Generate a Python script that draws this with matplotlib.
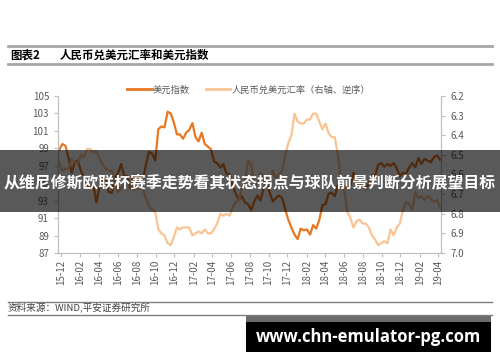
import matplotlib as mpl
mpl.use('Agg')
from matplotlib import pyplot as plt
from matplotlib.patches import Rectangle
from matplotlib.lines import Line2D
import matplotlib.dates as mdates
import pandas as pd

plt.rcParams['font.family'] = ['Noto Sans CJK SC', 'DejaVu Sans']

# 10-day samples as placed on the chart's time axis
start_date = '2015-11-25'
usd_index = [98.8, 99.5, 99.3, 97.9, 96.2, 97.4,
             97.6, 96.4, 95.7, 94.6, 94.5, 94.8, 92.8, 94.6, 95.3, 95.3,
             94.0, 93.9, 95.6, 96.2, 97.2, 95.8, 95.8, 94.4, 95.9, 95.1,
             95.8, 95.4, 97.1, 98.6, 98.4, 97.6, 101.2, 101.5, 101.4, 103.2,
             103.0, 102.0, 100.6, 100.6, 100.1, 100.8, 101.1, 101.9, 100.3, 99.8,
             100.8, 99.5, 99.2, 98.9, 97.5, 97.3, 96.8, 97.2, 96.1, 96.0,
             94.7, 93.8, 93.1, 93.5, 92.8, 92.6, 91.9, 92.9, 93.6, 93.0,
             94.4, 94.9, 93.9, 92.9, 93.3, 93.6, 93.3, 92.0, 90.8, 89.9,
             89.1, 88.6, 89.8, 89.6, 89.7, 89.1, 90.2, 89.8, 90.8, 92.5,
             92.6, 93.8, 93.9, 93.5, 94.8, 94.6, 94.7, 94.5, 94.6, 96.2,
             95.3, 94.8, 95.2, 94.3, 95.0, 95.9, 95.8, 97.1, 97.3, 96.9,
             97.2, 97.0, 97.3, 96.7, 95.8, 96.2, 96.1, 96.8, 97.3, 96.8,
             97.9, 97.2, 97.8, 97.6, 97.4, 98.0, 98.2, 97.7]
cny_rate = [6.54, 6.58, 6.57, 6.57, 6.52, 6.54,
            6.54, 6.50, 6.51, 6.47, 6.47, 6.49, 6.48, 6.52, 6.55, 6.57,
            6.58, 6.58, 6.65, 6.69, 6.67, 6.64, 6.63, 6.65, 6.68, 6.67,
            6.67, 6.67, 6.72, 6.76, 6.78, 6.79, 6.88, 6.90, 6.91, 6.95,
            6.96, 6.92, 6.87, 6.88, 6.87, 6.87, 6.87, 6.91, 6.90, 6.89,
            6.90, 6.88, 6.90, 6.90, 6.88, 6.85, 6.80, 6.81, 6.80, 6.81,
            6.77, 6.74, 6.73, 6.67, 6.64, 6.53, 6.55, 6.65, 6.65, 6.59,
            6.64, 6.62, 6.63, 6.58, 6.62, 6.60, 6.58, 6.50, 6.44, 6.40,
            6.29, 6.33, 6.34, 6.34, 6.32, 6.32, 6.29, 6.29, 6.33, 6.37,
            6.34, 6.39, 6.41, 6.41, 6.50, 6.63, 6.67, 6.79, 6.82, 6.87,
            6.84, 6.83, 6.85, 6.85, 6.87, 6.91, 6.93, 6.96, 6.95, 6.94,
            6.95, 6.88, 6.91, 6.87, 6.85, 6.78, 6.74, 6.75, 6.78, 6.69,
            6.72, 6.71, 6.73, 6.71, 6.72, 6.74, 6.73, 6.77]
dates = pd.date_range(start_date, periods=len(usd_index), freq='10D')
tick_dates = pd.date_range('2015-12-01', '2019-04-01', freq='2MS')
left_ticks = [87, 89, 91, 93, 95, 97, 99, 101, 103, 105]
right_ticks = [6.2, 6.3, 6.4, 6.5, 6.6, 6.7, 6.8, 6.9, 7.0]

DARK = '#E87722'
LIGHT = '#F9C394'
GREY_TXT = '#595959'
SPINE = '#BFBFBF'

W, H = 500, 362
fig = plt.figure(figsize=(W / 100, H / 100), dpi=100)

ax = fig.add_axes([58 / W, 1 - 253 / H, (441 - 58) / W, (253 - 96) / H])
ax2 = ax.twinx()

ax.plot(dates, usd_index, color=DARK, lw=1.6, label='美元指数')
ax2.plot(dates, cny_rate, color=LIGHT, lw=1.6, label='人民币兑美元汇率（右轴、逆序）')

ax.set_ylim(87, 105)
ax.set_yticks(left_ticks)
ax2.set_ylim(7.0, 6.2)
ax2.set_yticks(right_ticks)
ax2.set_yticklabels(['%.1f' % v for v in right_ticks])
ax.set_xlim(pd.Timestamp('2015-11-21'), pd.Timestamp('2019-04-11'))
ax.set_xticks(tick_dates)
ax.xaxis.set_major_formatter(mdates.DateFormatter('%y-%m'))
for lbl in ax.get_xticklabels():
    lbl.set_rotation(90)

for a in (ax, ax2):
    for s in a.spines.values():
        s.set_color(SPINE)
    a.spines['top'].set_visible(False)
    a.tick_params(colors=SPINE, labelcolor=GREY_TXT, labelsize=7, length=3, width=0.8)
ax.tick_params(axis='x', labelsize=7, pad=2)

# legend
h1 = Line2D([], [], color=DARK, lw=2)
h2 = Line2D([], [], color=LIGHT, lw=2)
fig.legend([h1, h2], ['美元指数', '人民币兑美元汇率（右轴、逆序）'], ncol=2, frameon=False,
           loc='center left', bbox_to_anchor=(119 / W, 1 - 90 / H), fontsize=6.7,
           labelcolor=GREY_TXT, handlelength=2.6, handletextpad=0.15, columnspacing=1.7)

# header
fig.add_artist(Line2D([8 / W, 492 / W], [1 - 46 / H] * 2, color='#A6A6A6', lw=2))
fig.add_artist(Line2D([8 / W, 492 / W], [1 - 64 / H] * 2, color='#A6A6A6', lw=2))
fig.text(10 / W, 1 - 55.5 / H, '图表2', fontsize=8.3, fontweight='bold', va='center')
fig.text(60 / W, 1 - 55.5 / H, '人民币兑美元汇率和美元指数', fontsize=8.3, fontweight='bold', va='center')

# footer
fig.add_artist(Line2D([8 / W, 492 / W], [1 - 302 / H] * 2, color='#7F7F7F', lw=1))
fig.add_artist(Line2D([8 / W, 492 / W], [1 - 315 / H] * 2, color='#7F7F7F', lw=1))
fig.text(8 / W, 1 - 308.5 / H, '资料来源：WIND,平安证券研究所', fontsize=6.9, style='italic',
         color='#404040', va='center')

# overlay banner
fig.add_artist(Rectangle((0, 1 - 212 / H), 1, 62 / H, transform=fig.transFigure,
                         facecolor='black', alpha=0.65, edgecolor='none'))
fig.text(0.5, 1 - 182 / H, '从维尼修斯欧联杯赛季走势看其状态拐点与球队前景判断分析展望目标',
         fontsize=11.4, fontweight='heavy', color='white', ha='center', va='center')

# url box
fig.add_artist(Rectangle((246 / W, 1 - 322 / H), 245 / W, 7 / H, transform=fig.transFigure,
                         facecolor='#6B6B6B', edgecolor='none'))
fig.add_artist(Rectangle((246 / W, 1 - 352 / H), 245 / W, 30 / H, transform=fig.transFigure,
                         facecolor='black', edgecolor='none'))
fig.text(368 / W, 1 - 337 / H, 'www.chn-emulator-pg.com', fontsize=12, fontweight='bold',
         color='white', ha='center', va='center', family=['Open Sans', 'DejaVu Sans'])

fig.savefig('out.png', dpi=100)
